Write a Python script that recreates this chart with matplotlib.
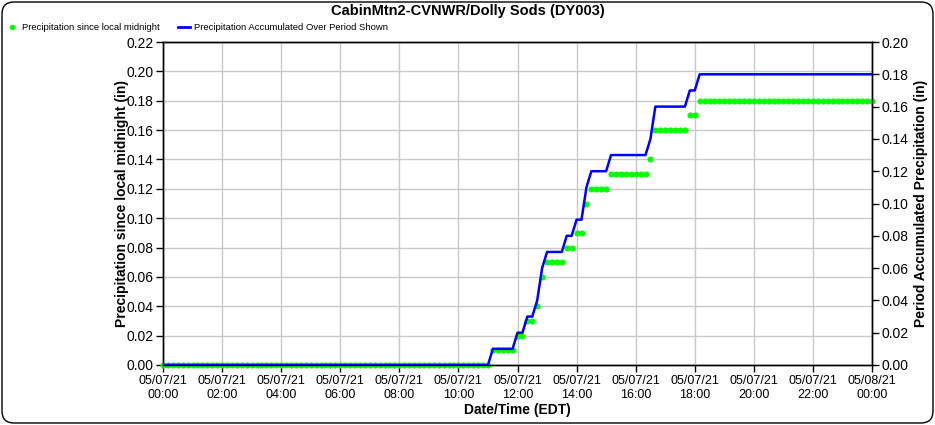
import numpy as np
import pandas as pd
import matplotlib
matplotlib.use('Agg')
import matplotlib.pyplot as plt
import matplotlib.dates as mdates
from matplotlib.patches import FancyBboxPatch
from matplotlib.lines import Line2D

plt.rcParams['font.family'] = ['Liberation Sans', 'DejaVu Sans']

# 10-minute readings, 05/07/21 00:00 -> 05/08/21 00:00 (one row per hour)
precip_since_midnight = (
    [0.00] * 6 * 11 +                              # 00:00 - 10:50
    [0.00, 0.01, 0.01, 0.01, 0.01, 0.01] +         # 11:00
    [0.02, 0.02, 0.03, 0.03, 0.04, 0.06] +         # 12:00
    [0.07, 0.07, 0.07, 0.07, 0.08, 0.08] +         # 13:00
    [0.09, 0.09, 0.11, 0.12, 0.12, 0.12] +         # 14:00
    [0.12, 0.13, 0.13, 0.13, 0.13, 0.13] +         # 15:00
    [0.13, 0.13, 0.13, 0.14, 0.16, 0.16] +         # 16:00
    [0.16, 0.16, 0.16, 0.16, 0.16, 0.17] +         # 17:00
    [0.17, 0.18, 0.18, 0.18, 0.18, 0.18] +         # 18:00
    [0.18] * 6 * 5 +                               # 19:00 - 23:50
    [0.18]                                         # 05/08 00:00
)
times = pd.date_range('2021-05-07 00:00', '2021-05-08 00:00', freq='10min')

# accumulated over the period shown (starts at zero)
period_accum = np.array(precip_since_midnight) - precip_since_midnight[0]

xtick_times = pd.date_range('2021-05-07 00:00', '2021-05-08 00:00', freq='2h')
xtick_labels = [t.strftime('%m/%d/%y\n%H:%M') for t in xtick_times]
left_ticks = np.arange(0, 0.221, 0.02)
right_ticks = np.arange(0, 0.201, 0.02)

fig = plt.figure(figsize=(9.35, 4.25), dpi=100)
ax = fig.add_axes([163 / 935, 60 / 425, 709 / 935, 323 / 425])
ax2 = ax.twinx()

ax.plot(times, precip_since_midnight, 'o', color='#00ff00', markersize=4.4,
        markeredgewidth=0, clip_on=False, zorder=3)
ax2.plot(times, period_accum, color='#0000ff', lw=1.8, zorder=3)

ax.set_xlim(times[0], times[-1])
ax.set_ylim(0, 0.22)
ax2.set_ylim(0, 0.20)
ax.set_xticks(xtick_times)
ax.set_xticklabels(xtick_labels)
ax.set_yticks(left_ticks)
ax.set_yticklabels([f'{v:.2f}' for v in left_ticks])
ax2.set_yticks(right_ticks)
ax2.set_yticklabels([f'{v:.2f}' for v in right_ticks])

ax.grid(True, color='#c8c8c8', lw=1)
ax.set_axisbelow(True)
for a in (ax, ax2):
    a.tick_params(direction='out', length=5, width=1, color='black',
                  labelsize=9, pad=2)
    for s in a.spines.values():
        s.set_linewidth(1)
ax.tick_params(axis='y', labelsize=10)
ax2.tick_params(axis='y', labelsize=10)

ax.set_xlabel('Date/Time (EDT)', fontsize=10, fontweight='bold', labelpad=2)
ax.set_ylabel('Precipitation since local midnight (in)', fontsize=10,
              fontweight='bold', labelpad=-2)
ax2.set_ylabel('Period Accumulated Precipitation (in)', fontsize=10,
               fontweight='bold', labelpad=4)

fig.text(0.5, 1 - 11 / 425, 'CabinMtn2-CVNWR/Dolly Sods (DY003)',
         ha='center', va='center', fontsize=10.5, fontweight='bold')

handles = [Line2D([], [], ls='none', marker='o', color='#00ff00',
                  markersize=4, markeredgewidth=0),
           Line2D([], [], color='#0000ff', lw=2)]
fig.legend(handles, ['Precipitation since local midnight',
                     'Precipitation Accumulated Over Period Shown'],
           loc='center left', bbox_to_anchor=(6 / 935, 1 - 28 / 425),
           ncol=2, frameon=False, fontsize=6.8, handlelength=1.3,
           handletextpad=0.4, columnspacing=1.9, borderpad=0,
           borderaxespad=0)

border = FancyBboxPatch((0.02, 0.02), 9.31, 4.21,
                        boxstyle='round,pad=0,rounding_size=0.12',
                        transform=fig.dpi_scale_trans, fill=False,
                        edgecolor='black', lw=1)
fig.patches.append(border)

fig.savefig('out.png', dpi=100)
